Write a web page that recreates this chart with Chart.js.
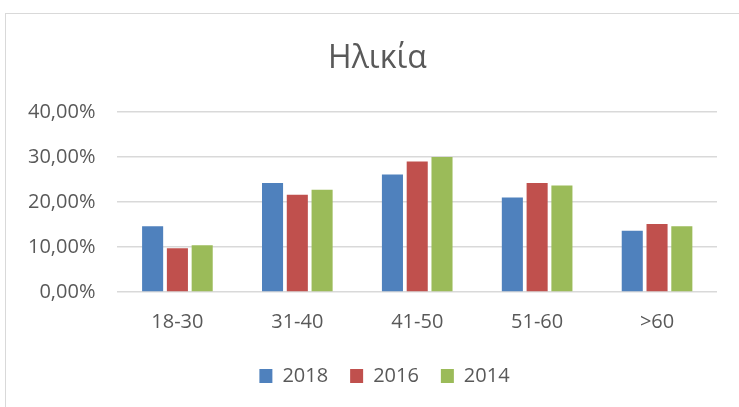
<!DOCTYPE html>
<html>
<head>
<meta charset="utf-8">
<script src="https://cdn.jsdelivr.net/npm/chart.js@4/dist/chart.umd.min.js"></script>
<style>
  html, body { margin: 0; padding: 0; background: #fff; }
  #wrap { position: relative; width: 739px; height: 407px; overflow: hidden; }
  #frame { position: absolute; left: 5px; top: 13px; width: 760px; height: 420px; border: 1px solid #d9d9d9; box-sizing: border-box; }
  canvas { position: absolute; left: 0; top: 0; }
</style>
</head>
<body>
<div id="wrap">
  <div id="frame"></div>
  <canvas id="chart" width="739" height="407"></canvas>
</div>
<script>
var categories = ["18-30", "31-40", "41-50", "51-60", ">60"];
var seriesNames = ["2018", "2016", "2014"];
var values2018 = [0.146, 0.2425, 0.261, 0.210, 0.136];
var values2016 = [0.097, 0.216, 0.290, 0.2425, 0.151];
var values2014 = [0.104, 0.2275, 0.300, 0.2365, 0.146];
var yTicks = [0, 0.1, 0.2, 0.3, 0.4];
var chartTitle = 'Ηλικία';

var colors = ["#4F81BD", "#C0504D", "#9BBB59"];
var allValues = [values2018, values2016, values2014];
var fontFamily = "'Open Sans', 'Noto Sans', sans-serif";

function pct(v) {
  return (v * 100).toFixed(2).replace('.', ',') + '%';
}

// excel centres title and legend over the whole frame, not the chart box
var framePlugin = {
  id: 'frameTitle',
  afterLayout: function(chart) {
    chart.legend.left += 23;
    chart.legend.right += 23;
  },
  afterDraw: function(chart) {
    var ctx = chart.ctx;
    ctx.save();
    ctx.fillStyle = '#595959';
    ctx.font = '32px ' + fontFamily;
    ctx.textAlign = 'center';
    ctx.textBaseline = 'alphabetic';
    ctx.fillText(chartTitle, 377.5, 68);
    ctx.restore();
  }
};

new Chart(document.getElementById("chart"), {
  type: 'bar',
  data: {
    labels: categories,
    datasets: seriesNames.map(function(name, i) {
      return {
        label: name,
        data: allValues[i],
        backgroundColor: colors[i],
        borderWidth: 0,
        categoryPercentage: 0.62,
        barPercentage: 0.85
      };
    })
  },
  plugins: [framePlugin],
  options: {
    responsive: false,
    animation: false,
    layout: {
      padding: { left: 6, right: 22, top: 112, bottom: 11 }
    },
    plugins: {
      title: { display: false },
      legend: {
        position: 'bottom',
        labels: {
          color: '#595959',
          font: { family: fontFamily, size: 20 },
          boxWidth: 13,
          boxHeight: 14,
          padding: 22
        }
      },
      tooltip: { enabled: false }
    },
    scales: {
      x: {
        grid: { display: false },
        border: { display: false },
        ticks: {
          color: '#595959',
          font: { family: fontFamily, size: 20 },
          padding: 10
        }
      },
      y: {
        min: 0,
        max: 0.4,
        afterBuildTicks: function(axis) {
          axis.ticks = yTicks.map(function(v) { return { value: v }; });
        },
        grid: { color: '#d9d9d9', lineWidth: 1.5, drawTicks: false },
        border: { display: false },
        ticks: {
          color: '#595959',
          font: { family: fontFamily, size: 20 },
          padding: 22,
          callback: function(v) { return pct(v); }
        }
      }
    }
  }
});
</script>
</body>
</html>
